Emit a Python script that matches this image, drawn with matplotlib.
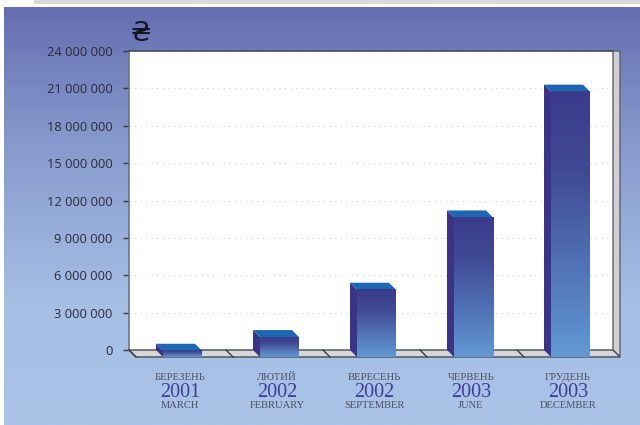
import numpy as np
import matplotlib.pyplot as plt
from matplotlib.colors import LinearSegmentedColormap

# dati
mesi_ua = ["БЕРЕЗЕНЬ", "ЛЮТИЙ", "ВЕРЕСЕНЬ", "ЧЕРВЕНЬ", "ГРУДЕНЬ"]
anni = ["2001", "2002", "2002", "2003", "2003"]
mesi_en = ["MARCH", "FEBRUARY", "SEPTEMBER", "JUNE", "DECEMBER"]
valori = [500000, 1600000, 5400000, 11200000, 21300000]
ticks = [0, 3000000, 6000000, 9000000, 12000000, 15000000, 18000000, 21000000, 24000000]

W, H = 640, 425
fig = plt.figure(figsize=(W / 100, H / 100), dpi=100, facecolor="white")

# sfondo sfumato e striscia grigia in alto
bg = fig.add_axes([0, 0, 1, 1], zorder=0)
bg.set_xlim(0, W)
bg.set_ylim(H, 0)
bg.axis("off")
cmap_bg = LinearSegmentedColormap.from_list(
    "bg", [(0, "#646eb0"), (0.3, "#8497cb"), (0.7, "#a5bee4"), (1, "#aac3e7")])
bg.imshow(np.linspace(0, 1, 256).reshape(-1, 1), cmap=cmap_bg, aspect="auto",
          extent=[4, W, H, 7], zorder=1)
bg.fill_between([34, W], 0, 4, color="#d9dadc", lw=0, zorder=1)
bg.set_xlim(0, W)
bg.set_ylim(H, 0)

ax = fig.add_axes([129 / W, (H - 350) / H, 484 / W, 299 / H], zorder=1)
passo = 97
ax.set_xlim((129 - 175.5) / passo, (613 - 175.5) / passo)
ax.set_ylim(0, 24000000)
ax.set_facecolor("white")
dx = 7 / passo
dy = 7 / 299 * 24000000
x0, x1 = ax.get_xlim()
meta = 19.5 / passo

for s in ["right", "bottom"]:
    ax.spines[s].set_visible(False)
ax.spines["top"].set_color("#4a4a55")
ax.spines["left"].set_color("#70737c")
ax.spines["top"].set_linewidth(1.2)
ax.spines["left"].set_linewidth(1.2)

ax.set_yticks(ticks)
ax.set_yticklabels([f"{t:,}".replace(",", " ") for t in ticks],
                   fontfamily="Open Sans", fontsize=9.3, color="#2b2b3a")
ax.tick_params(axis="y", length=4, width=1, color="#3a3a45", pad=8)
ax.set_xticks([])
ax.grid(axis="y", color="#d5d5d5", linestyle=(0, (1, 4)), linewidth=0.8)
ax.set_axisbelow(True)

# parete destra e pavimento
ax.fill([x1, x1 + dx, x1 + dx, x1], [0, -dy, 24000000, 24000000], color="#cfd0d2",
        ec="#60616a", lw=1, clip_on=False, zorder=2)
ax.fill([x0, x1, x1 + dx, x0 + dx], [0, 0, -dy, -dy], color="#d6d7d9",
        ec="#4a4a55", lw=1, clip_on=False, zorder=2)
for i in range(len(valori)):
    sep = x0 + i
    ax.plot([sep, sep + dx], [0, -dy], color="#3a3a45", lw=1, clip_on=False, zorder=3)

cmap_bar = LinearSegmentedColormap.from_list(
    "bar", [(0, "#3b3b8c"), (0.3, "#3f4a94"), (1, "#6299d5")])
sfumatura = np.linspace(0, 1, 256).reshape(-1, 1)

for i, v in enumerate(valori):
    # faccia laterale e superiore
    ax.fill([i - meta, i - meta + dx, i - meta + dx, i - meta],
            [0, -dy, v - dy, v], color="#3a3386", lw=0, clip_on=False, zorder=4)
    ax.fill([i - meta, i + meta, i + meta + dx, i - meta + dx],
            [v, v, v - dy, v - dy], color="#1b67b1", lw=0, clip_on=False, zorder=4)
    # faccia frontale con sfumatura
    ax.imshow(sfumatura, cmap=cmap_bar, aspect="auto", clip_on=False, zorder=5,
              extent=[i - meta + dx, i + meta + dx, -dy, v - dy])

ax.set_xlim(x0, x1)
ax.set_ylim(0, 24000000)

# etichette delle categorie
unita = 24000000 / 299
for i in range(len(valori)):
    xc = i + 4.5 / passo
    ax.text(xc, -27 * unita, mesi_ua[i], ha="center", va="center", family="Liberation Serif",
            fontsize=7.7, color="#4b4f60")
    ax.text(xc, -42.5 * unita, anni[i], ha="center", va="center", family="Liberation Serif",
            fontsize=14.6, color="#3f3f95")
    ax.text(xc, -55 * unita, mesi_en[i], ha="center", va="center", family="Liberation Serif",
            fontsize=7.6, color="#4b4f60")

fig.text(140.5 / W, 1 - 34 / H, "₴", ha="center", va="center", family="DejaVu Sans",
         fontsize=19, color="#15151f")

fig.savefig("out.png", dpi=100)
